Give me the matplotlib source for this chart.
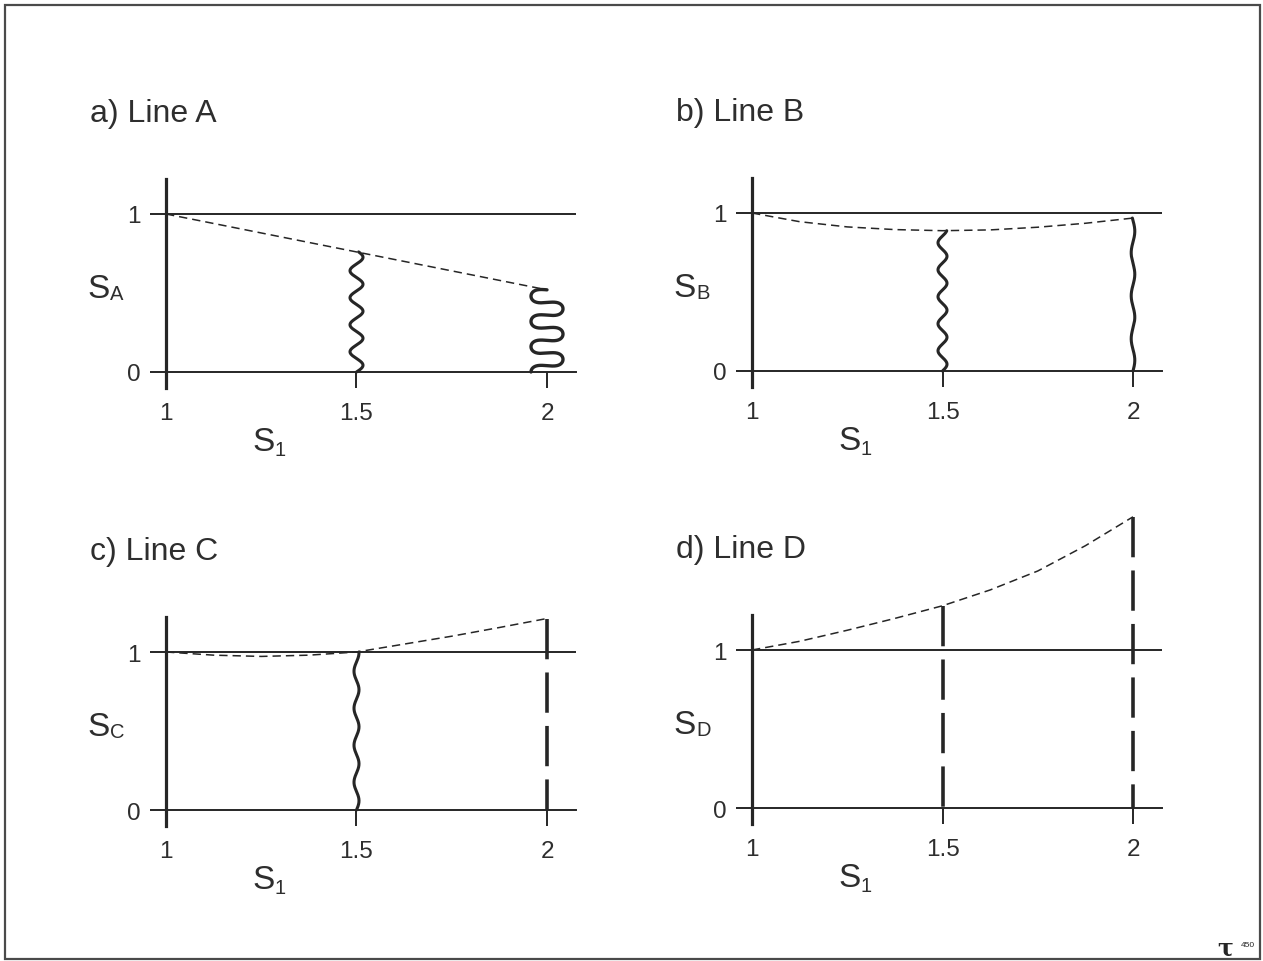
import numpy as np
import matplotlib
matplotlib.use("Agg")
import matplotlib.pyplot as plt
from matplotlib.patches import Rectangle

plt.rcParams['font.family'] = ['Liberation Sans', 'DejaVu Sans']
plt.rcParams['lines.scale_dashes'] = False

INK = '#262626'
TEXT = '#2e2e2e'

# ---- data -------------------------------------------------------------
s1_ticks = [1, 1.5, 2]
s1_tick_labels = ['1', '1.5', '2']
s_ticks = [0, 1]
s_tick_labels = ['0', '1']

panel_titles = ['a) Line A', 'b) Line B', 'c) Line C', 'd) Line D']
panel_letters = ['A', 'B', 'C', 'D']

# saturation curves S(S1)
s1_a = [1.0, 1.5, 2.0]
s_a = [1.0, 0.76, 0.52]

s1_curve = [1.0, 1.125, 1.25, 1.375, 1.5, 1.625, 1.75, 1.875, 2.0]
s_b = [1.0, 0.945, 0.912, 0.895, 0.888, 0.893, 0.91, 0.935, 0.968]
s_c = [1.0, 0.98, 0.972, 0.98, 1.0, 1.05, 1.1, 1.155, 1.212]
s_d = [1.0, 1.055, 1.125, 1.2, 1.28, 1.38, 1.5, 1.66, 1.843]

curves = [(s1_a, s_a), (s1_curve, s_b), (s1_curve, s_c), (s1_curve, s_d)]

# marker style of the vertical bar drawn at S1 = 1.5 and S1 = 2 in each panel
bar_styles = [
    [('wave', 6.5, 27), ('meander', 16.0, 0)],
    [('wave', 4.5, 27), ('wave', 1.8, 43)],
    [('wave', 2.5, 37), ('dash', 0, 0)],
    [('dash', 0, 0), ('dash', 0, 0)],
]

# ---- layout -----------------------------------------------------------
W, H = 1263, 962
PX_X, PX_Y = 381.0, 158.0          # pixels per data unit
origins = [(166, 373), (752, 372), (166, 811), (752, 809)]  # pixel of (1, 0)
XLIM = (0.7, 2.2)
YLIM = (-0.65, 1.95)
X_END = 2.076
Y_TOP = 1.22

fig = plt.figure(figsize=(W / 100, H / 100), dpi=100)
fig.patch.set_facecolor('white')


def make_axes(ox, oy):
    left = (ox + (XLIM[0] - 1) * PX_X) / W
    width = (XLIM[1] - XLIM[0]) * PX_X / W
    bottom = 1 - (oy - YLIM[0] * PX_Y) / H
    height = (YLIM[1] - YLIM[0]) * PX_Y / H
    ax = fig.add_axes([left, bottom, width, height])
    ax.set_xlim(*XLIM)
    ax.set_ylim(*YLIM)
    ax.patch.set_alpha(0)
    return ax


def wave(ax, x0, top, amp_px, period_px):
    y = np.linspace(0, top, 600)
    x = x0 + (amp_px / PX_X) * np.sin(2 * np.pi * y * PX_Y / period_px)
    ax.plot(x, y, color=INK, lw=2.2, solid_capstyle='round', clip_on=False)


def meander(ax, x0, top, amp_px):
    t = np.linspace(-np.pi / 2, 6 * np.pi, 1200)
    r = top / (6.5 * np.pi)
    d = 1.35 * r
    x = x0 + (amp_px / PX_X) * np.sin(t)
    y = r * (t + np.pi / 2) - 0.5 * d * np.sin(2 * t)
    ax.plot(x, y, color=INK, lw=2.4, solid_capstyle='round', clip_on=False)


def long_dash(ax, x0, top):
    ax.plot([x0, x0], [top, 0], color=INK, lw=2.6, dashes=(29, 9.5),
            solid_capstyle='butt', dash_capstyle='butt', clip_on=False)


for k, ax in enumerate([make_axes(*o) for o in origins]):
    for side in ('top', 'right'):
        ax.spines[side].set_visible(False)
    ax.spines['left'].set_position(('data', 1))
    ax.spines['left'].set_bounds(-0.1, Y_TOP)
    ax.spines['left'].set_linewidth(2.3)
    ax.spines['left'].set_color(INK)
    ax.spines['bottom'].set_position(('data', 0))
    ax.spines['bottom'].set_bounds(1, X_END)
    ax.spines['bottom'].set_linewidth(1.4)
    ax.spines['bottom'].set_color(INK)

    ax.set_xticks(s1_ticks, s1_tick_labels)
    ax.set_yticks(s_ticks, s_tick_labels)
    ax.tick_params(axis='both', direction='out', length=11.5, width=1.4,
                   color=INK, labelcolor=TEXT, labelsize=17.5)
    ax.tick_params(axis='x', pad=10)
    ax.tick_params(axis='y', pad=7)

    # reference line S = 1
    ax.hlines(1, s1_ticks[0], X_END, color=INK, lw=1.4)

    xs, ys = curves[k]
    ax.plot(xs, ys, color=INK, lw=1.1, dashes=(6, 3.6), clip_on=False)

    values = dict(zip(xs, ys))
    for x0, (style, amp, per) in zip(s1_ticks[1:], bar_styles[k]):
        top = values[x0]
        if style == 'wave':
            wave(ax, x0, top, amp, per)
        elif style == 'meander':
            meander(ax, x0, top, amp)
        else:
            long_dash(ax, x0, top)

    # titles and axis labels
    ax.text(0.801, 1.59, panel_titles[k], fontsize=23, color=TEXT,
            ha='left', va='baseline', clip_on=False)
    ax.text(0.795, 0.475, 'S', fontsize=24, color=TEXT,
            ha='left', va='baseline', clip_on=False)
    ax.text(0.853, 0.462, panel_letters[k], fontsize=14.5, color=TEXT,
            ha='left', va='baseline', clip_on=False)
    ax.text(1.228, -0.495, 'S', fontsize=24, color=TEXT,
            ha='left', va='baseline', clip_on=False)
    ax.text(1.286, -0.525, '1', fontsize=14.5, color=TEXT,
            ha='left', va='baseline', clip_on=False)

# page frame
fig.add_artist(Rectangle((5 / W, 2 / H), 1255 / W, 954 / H,
                         transform=fig.transFigure, fill=False,
                         edgecolor='#4a4a4a', lw=1.6))

# publisher mark
fig.text(1217 / W, 1 - 955 / H, 'τ', fontsize=17, family='DejaVu Serif',
         weight='bold', color=INK, ha='left', va='baseline')
fig.text(1241 / W, 1 - 946 / H, '450', fontsize=6, color=INK,
         ha='left', va='center')

fig.savefig('out.png', dpi=100, facecolor='white')
